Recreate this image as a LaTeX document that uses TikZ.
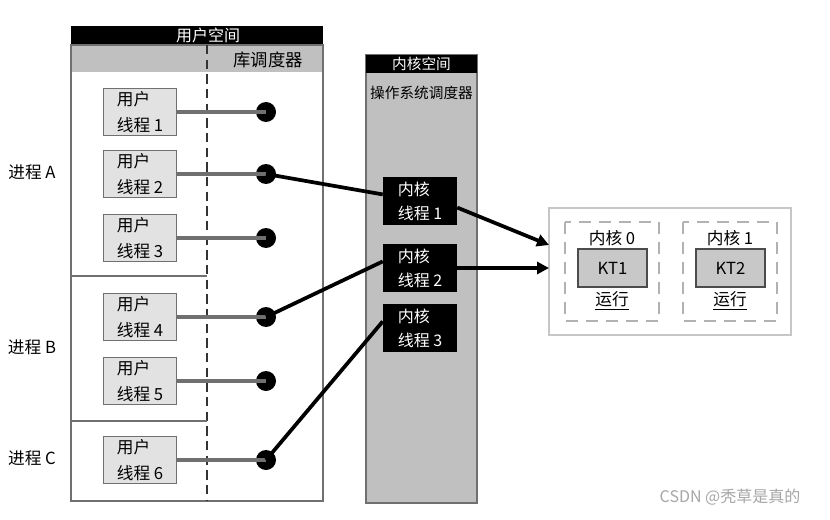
\documentclass[tikz,border=0pt]{standalone}
\usepackage{fontspec}
\setmainfont{Noto Sans CJK SC}
\usetikzlibrary{arrows.meta}
\definecolor{barg}{HTML}{C0C0C0}
\definecolor{boxg}{HTML}{E2E2E2}
\definecolor{edgeg}{HTML}{707070}
\definecolor{ktg}{HTML}{C8C8C8}
\tikzset{
  uthread/.style={draw=edgeg, fill=boxg, line width=1pt, minimum width=54.75pt, minimum height=35.25pt, align=left, inner sep=0pt, font=\fontsize{12.5}{19}\selectfont},
  kthread/.style={fill=black, text=white, minimum width=55.5pt, minimum height=36pt, align=left, inner sep=0pt, font=\fontsize{12}{18}\selectfont},
  udot/.style={circle, fill=black, minimum size=15pt, inner sep=0pt},
  ulink/.style={draw=edgeg, line width=2.8pt},
  klink/.style={draw=black, line width=2.8pt},
  karrow/.style={draw=black, line width=2.8pt, -{Triangle[length=9pt,width=9pt]}},
  coretile/.style={draw=black!70, fill=ktg, line width=0.8pt, minimum width=51.75pt, minimum height=28.5pt, inner sep=0pt},
  coreframe/.style={draw=gray!60, line width=1.2pt, dash pattern=on 9pt off 6pt},
  lbl/.style={inner sep=0pt},
}
\begin{document}
\begin{tikzpicture}[x=0.75pt,y=-0.75pt, font=\fontsize{12.5}{14}\selectfont]
\useasboundingbox (0,0) rectangle (830,520);
% user space
\fill[black] (71,26) rectangle (323,45);
\node[lbl, text=white, font=\fontsize{12}{14}\selectfont] (ush) at (208,35.5) {用户空间};
\fill[barg] (71,45) rectangle (323,72);
\draw[edgeg, line width=1pt] (71,45) rectangle (323,501);
\draw[black!80, line width=1pt, dash pattern=on 7pt off 4pt] (207,45) -- (207,501);
\node[lbl, font=\fontsize{13}{15}\selectfont] (lib) at (268,60) {库调度器};
\draw[edgeg, line width=1pt] (71,276) -- (207,276);
\draw[edgeg, line width=1pt] (71,421) -- (207,421);
\node[lbl] (pa) at (32,172) {进程 A};
\node[lbl] (pb) at (32,347) {进程 B};
\node[lbl] (pc) at (32,458) {进程 C};
% kernel space
\fill[barg] (366,55) rectangle (477,503);
\draw[edgeg, line width=1pt] (366,55) rectangle (477,503);
\fill[black] (366,55) rectangle (477,73);
\node[lbl, text=white, font=\fontsize{11}{13}\selectfont] (ksh) at (421.5,64) {内核空间};
\node[lbl, font=\fontsize{11}{13}\selectfont] (os) at (421.5,93) {操作系统调度器};
% user threads
\foreach \i/\y in {1/112,2/174,3/238,4/317,5/381,6/460}{
  \node[uthread] (u\i) at (140,\y) {用户\\线程 \i};
  \node[udot] (d\i) at (266,\y) {};
  \draw[ulink] (u\i.east) -- (d\i.center);
}
% kernel threads
\node[kthread] (k1) at (420,201) {内核\\线程 1};
\node[kthread] (k2) at (420,268) {内核\\线程 2};
\node[kthread] (k3) at (420,328) {内核\\线程 3};
% cpu
\node[draw=gray!45, line width=1.5pt, minimum width=181.5pt, minimum height=95.25pt, inner sep=0pt] (cpu) at (670,271.5) {};
\draw[coreframe] (565,222) rectangle (659,321);
\draw[coreframe] (683,222) rectangle (777,321);
\node[lbl] (c0) at (612,238) {内核 0};
\node[lbl] (c1) at (730,238) {内核 1};
\node[coretile] (t1) at (612.5,268) {KT1};
\node[coretile] (t2) at (730.5,268) {KT2};
\node[lbl] (r0) at (612,301) {\underline{运行}};
\node[lbl] (r1) at (730,301) {\underline{运行}};
\coordinate (in1) at (549,245);
\coordinate (in2) at (549,268);
% connectors
\draw[klink] (d2.center) -- (k1.170);
\draw[klink] (d4.center) -- (k2.170);
\draw[klink] (d6.center) -- (k3.170);
\draw[karrow] (k1.-10) -- (in1);
\draw[karrow] (k2.east) -- (in2);
% watermark
\node[lbl, text=gray!70, font=\fontsize{12}{14}\selectfont] (wm) at (730,497) {CSDN @秃草是真的};
\end{tikzpicture}
\end{document}
